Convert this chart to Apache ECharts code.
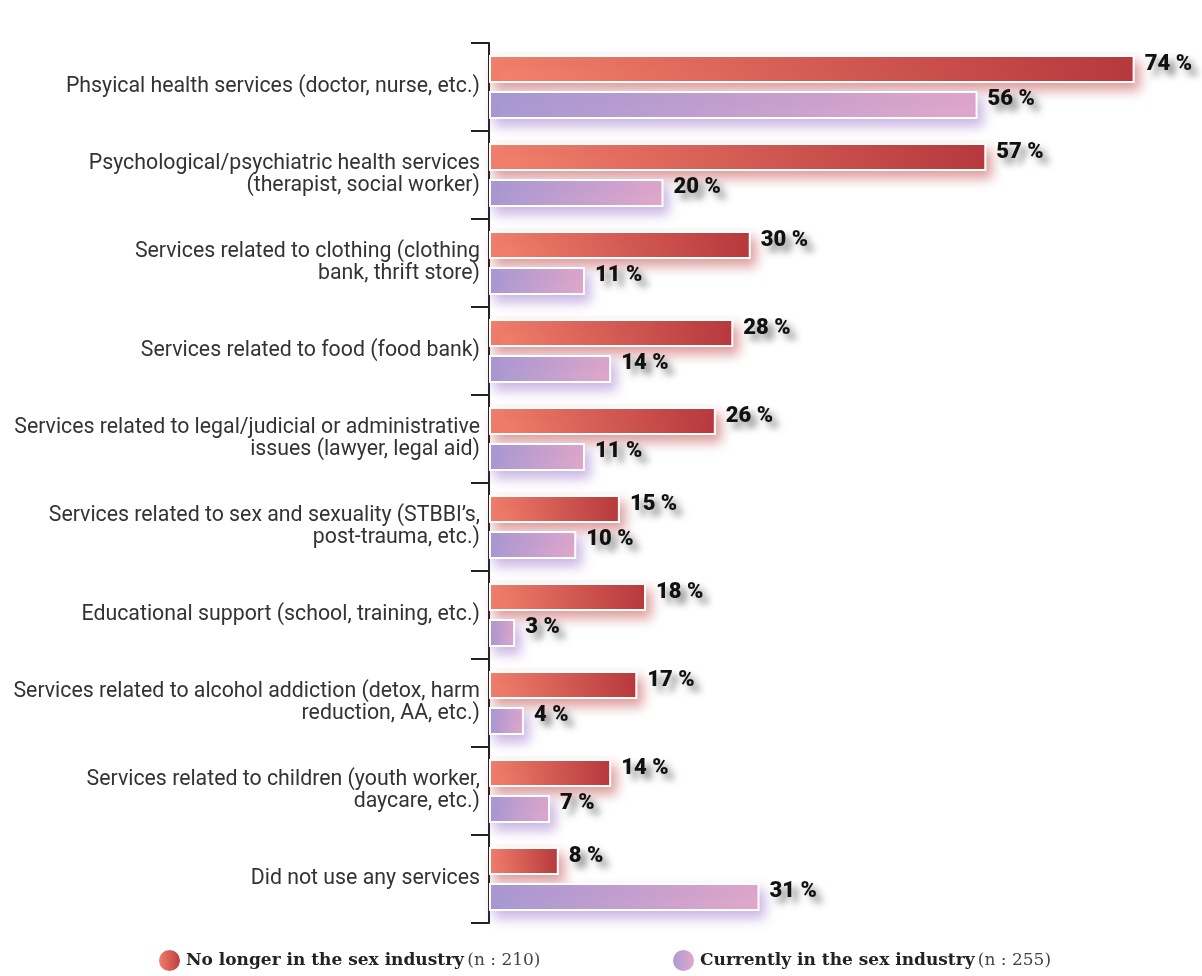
<!DOCTYPE html>
<html>
<head>
<meta charset="utf-8">
<script src="https://cdn.jsdelivr.net/npm/echarts@6/dist/echarts.min.js"></script>
<style>
  html, body { margin: 0; padding: 0; background: #fff; }
  #chart { width: 1202px; height: 976px; }
</style>
</head>
<body>
<div id="chart"></div>
<script>
// categories top to bottom
const categories = [
  'Phsyical health services (doctor, nurse, etc.)',
  'Psychological/psychiatric health services\n(therapist, social worker)',
  'Services related to clothing (clothing\nbank, thrift store)',
  'Services related to food (food bank)',
  'Services related to legal/judicial or administrative\nissues (lawyer, legal aid)',
  'Services related to sex and sexuality (STBBI\u2019s,\npost-trauma, etc.)',
  'Educational support (school, training, etc.)',
  'Services related to alcohol addiction (detox, harm\nreduction, AA, etc.)',
  'Services related to children (youth worker,\ndaycare, etc.)',
  'Did not use any services'
]
const noLonger = [74, 57, 30, 28, 26, 15, 18, 17, 14, 8]
const currently = [56, 20, 11, 14, 11, 10, 3, 4, 7, 31]
const seriesNames = ['No longer in the sex industry', 'Currently in the sex industry']
const sampleSizes = [210, 255]

const redGrad = new echarts.graphic.LinearGradient(0, 0, 1, 0, [
  { offset: 0, color: '#f5846f' },
  { offset: 1, color: '#b7393d' },
])
const purpleGrad = new echarts.graphic.LinearGradient(0, 0, 1, 0, [
  { offset: 0, color: '#a99ad3' },
  { offset: 1, color: '#e2a9cb' },
])

const valueLabel = {
  show: true,
  position: 'right',
  distance: 10,
  offset: [0, -5],
  formatter: p => p.value + ' %',
  fontFamily: 'Roboto',
  fontWeight: 900,
  fontSize: 22,
  color: '#111',
  textShadowColor: 'rgba(0,0,0,0.5)',
  textShadowBlur: 7,
  textShadowOffsetX: 6,
  textShadowOffsetY: 6,
}

function legendFor(i, left) {
  return {
    top: 943,
    left: left,
    icon: 'circle',
    itemWidth: 23,
    itemHeight: 23,
    itemGap: 14,
    data: [seriesNames[i]],
    formatter: name => '{b|' + name + '} {n|(n : ' + sampleSizes[i] + ')}',
    textStyle: {
      rich: {
        b: { fontFamily: 'DejaVu Serif', fontWeight: 'bold', fontSize: 17, color: '#222' },
        n: { fontFamily: 'DejaVu Serif', fontSize: 17, color: '#444' },
      },
    },
  }
}

const options = {
  animation: false,
  grid: {
    left: 489,
    right: 15,
    top: 43,
    bottom: 53,
  },
  legend: [legendFor(0, 152), legendFor(1, 666)],
  xAxis: {
    type: 'value',
    min: 0,
    max: 80,
    show: false,
  },
  yAxis: {
    type: 'category',
    inverse: true,
    data: categories,
    axisLine: { show: true, lineStyle: { color: '#222', width: 2 } },
    axisTick: { show: true, length: 18, lineStyle: { color: '#222', width: 2 } },
    axisLabel: {
      margin: 9,
      fontFamily: 'Roboto',
      fontSize: 21.3,
      lineHeight: 22,
      color: '#333',
      align: 'right',
    },
  },
  series: [
    {
      name: seriesNames[0],
      type: 'bar',
      data: noLonger,
      barWidth: 28,
      barGap: '28%',
      itemStyle: {
        color: redGrad,
        borderColor: '#fff',
        borderWidth: 2,
        shadowColor: 'rgba(190,60,60,0.5)',
        shadowBlur: 12,
        shadowOffsetX: 5,
        shadowOffsetY: 7,
      },
      label: valueLabel,
    },
    {
      name: seriesNames[1],
      type: 'bar',
      data: currently,
      barWidth: 28,
      itemStyle: {
        color: purpleGrad,
        borderColor: '#fff',
        borderWidth: 2,
        shadowColor: 'rgba(150,110,200,0.5)',
        shadowBlur: 12,
        shadowOffsetX: 5,
        shadowOffsetY: 7,
      },
      label: valueLabel,
    },
  ],
}

const chart = echarts.init(document.getElementById('chart'))
chart.setOption(options)
</script>
</body>
</html>
